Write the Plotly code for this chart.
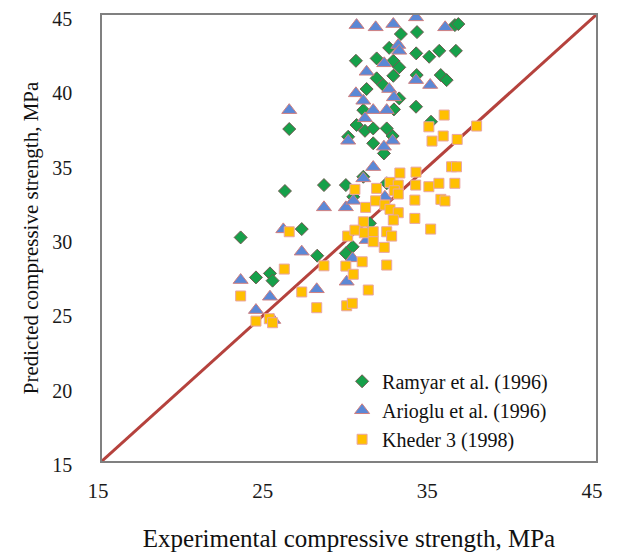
import plotly.graph_objects as go

# Ramyar et al. (1996) - experimental vs predicted
ramyar_x = [33.15, 34.13, 36.43, 36.64, 32.44, 34.08, 34.87, 35.48, 36.49, 30.42,
            31.68, 32.69, 33.05, 32.69, 31.68, 34.11, 35.57, 35.93, 31.07, 32.08,
            33.05, 34.07, 30.87, 32.73, 26.37, 30.46, 30.97, 31.47, 32.29, 32.65,
            29.95, 31.47, 32.12, 34.98, 26.11, 28.48, 29.81, 30.87, 32.29, 30.26,
            27.13, 23.42, 28.07, 30.22, 29.81, 31.27, 24.35, 25.20, 25.36]
ramyar_y = [43.72, 43.85, 44.32, 44.39, 42.79, 42.42, 42.19, 42.59, 42.59, 41.92,
            42.08, 41.92, 41.48, 40.91, 40.74, 40.96, 40.96, 40.62, 40.02, 40.29,
            39.39, 38.83, 38.60, 38.65, 37.33, 37.60, 37.21, 37.37, 37.37, 36.86,
            36.81, 36.37, 35.69, 37.82, 33.16, 33.56, 33.56, 34.12, 33.68, 32.77,
            30.60, 30.04, 28.81, 29.41, 28.97, 30.99, 27.35, 27.62, 27.13]

# Arioglu et al. (1996)
arioglu_x = [30.46, 31.62, 32.69, 34.07, 35.84, 32.99, 33.05, 32.14, 31.07, 34.07,
             34.93, 32.44, 30.42, 30.87, 32.73, 31.47, 32.29, 26.37, 30.97, 29.95,
             32.65, 32.12, 31.47, 30.87, 28.48, 29.81, 30.26, 26.01, 27.13, 31.07,
             30.22, 23.42, 25.20, 28.04, 29.86, 24.35, 25.40, 32.18]
arioglu_y = [44.32, 44.17, 44.39, 44.84, 44.17, 42.98, 42.59, 41.75, 41.18, 40.62,
             40.29, 40.02, 39.73, 39.23, 39.46, 38.60, 38.60, 38.60, 38.05, 36.54,
             36.54, 36.14, 34.77, 34.01, 32.06, 32.06, 32.50, 30.58, 29.08, 29.86,
             28.63, 27.17, 26.05, 26.55, 27.06, 25.15, 24.48, 32.77]

# Kheder 3 (1998)
kheder_x = [35.78, 34.85, 37.75, 35.72, 35.04, 36.57, 33.09, 34.07, 36.23, 36.53,
            30.36, 31.68, 32.49, 32.99, 32.75, 32.99, 34.05, 34.85, 35.46, 36.43,
            34.00, 35.58, 35.83, 31.01, 31.62, 32.18, 32.49, 32.99, 32.69, 34.00,
            30.87, 29.92, 30.36, 30.93, 31.47, 32.29, 32.59, 31.47, 32.14, 34.96,
            26.37, 28.48, 29.81, 30.80, 32.29, 30.26, 26.07, 23.42, 27.13, 31.17,
            28.04, 29.86, 30.20, 24.35, 25.16, 25.36]
kheder_y = [38.27, 37.48, 37.53, 36.86, 36.52, 36.63, 34.37, 34.43, 34.79, 34.79,
            33.27, 33.34, 33.74, 33.56, 33.18, 32.96, 33.56, 33.45, 33.68, 33.68,
            32.55, 32.60, 32.49, 32.06, 32.50, 32.22, 31.93, 31.70, 31.21, 31.32,
            31.09, 30.13, 30.53, 30.35, 30.42, 30.42, 30.13, 29.75, 29.37, 30.60,
            30.42, 28.13, 28.11, 28.40, 28.18, 27.56, 27.91, 26.10, 26.37, 26.50,
            25.31, 25.44, 25.61, 24.41, 24.57, 24.30]

line_xy = [15, 45]
tick_vals_x = [15, 25, 35, 45]
tick_vals_y = [15, 20, 25, 30, 35, 40, 45]

SERIF = "'Liberation Serif', 'Times New Roman', serif"

fig = go.Figure()
fig.add_trace(go.Scatter(x=line_xy, y=line_xy, mode="lines",
                         line=dict(color="#b5423d", width=3), showlegend=False,
                         hoverinfo="skip"))
fig.add_trace(go.Scatter(x=ramyar_x, y=ramyar_y, mode="markers", name="Ramyar et al. (1996)",
                         marker=dict(symbol="diamond", size=10, color="#16a04a",
                                     line=dict(color="#6e5a4e", width=1))))
fig.add_trace(go.Scatter(x=arioglu_x, y=arioglu_y, mode="markers", name="Arioglu et al. (1996)",
                         marker=dict(symbol="triangle-up", size=13, color="#5b88d6",
                                     line=dict(color="#d07f7f", width=1))))
fig.add_trace(go.Scatter(x=kheder_x, y=kheder_y, mode="markers", name="Kheder 3 (1998)",
                         marker=dict(symbol="square", size=10, color="#ffc000",
                                     line=dict(color="#e9a5a5", width=1))))

fig.update_layout(
    width=621, height=557,
    margin=dict(l=94, r=33, t=7, b=104),
    paper_bgcolor="white", plot_bgcolor="white",
    font=dict(family=SERIF, size=20, color="#1a1a1a"),
    showlegend=True,
    legend=dict(x=0.486, y=0.005, xanchor="left", yanchor="bottom",
                bgcolor="rgba(0,0,0,0)", font=dict(family=SERIF, size=20, color="#111"),
                itemwidth=30, tracegroupgap=0),
    xaxis=dict(range=[15, 45], tickvals=tick_vals_x, showgrid=False, zeroline=False,
               showline=True, linecolor="#808080", linewidth=1.5, mirror=True,
               ticks="", ticklabelstandoff=10, ticklabelshift=-4,
               automargin=False, ticklabeloverflow="allow",
               tickfont=dict(family=SERIF, size=21, color="#1a1a1a"),
               title=dict(text="Experimental compressive strength, MPa",
                          font=dict(family=SERIF, size=25, color="#111"), standoff=28)),
    yaxis=dict(range=[15, 45], tickvals=tick_vals_y, showgrid=False, zeroline=False,
               showline=True, linecolor="#808080", linewidth=1.5, mirror=True,
               ticks="", ticklabelstandoff=24, ticklabelshift=4,
               automargin=False, ticklabeloverflow="allow",
               tickfont=dict(family=SERIF, size=20, color="#1a1a1a"),
               title=dict(text="Predicted compressive strength, MPa",
                          font=dict(family=SERIF, size=21, color="#111"), standoff=8)),
)

fig.write_html("out.html")
